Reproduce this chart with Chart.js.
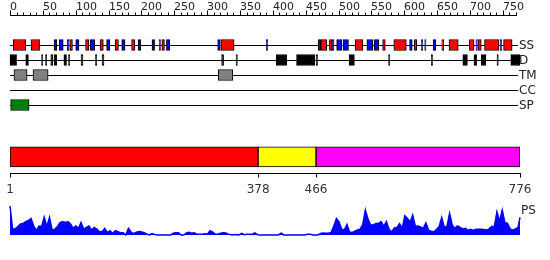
<!DOCTYPE html>
<html>
<head>
<meta charset="utf-8">
<script src="https://cdn.jsdelivr.net/npm/chart.js@4.4.1/dist/chart.umd.min.js"></script>
<style>
  html, body { margin: 0; padding: 0; background: #fff; }
  #wrap { position: relative; width: 550px; height: 260px; overflow: hidden; }
  #wrap canvas { position: absolute; left: 0; }
</style>
</head>
<body>
<div id="wrap">
  <canvas id="tracks" width="550" height="115" style="top:0"></canvas>
  <canvas id="domains" width="550" height="62" style="top:140px"></canvas>
  <canvas id="ps" width="550" height="40" style="top:200px"></canvas>
</div>
<script>
const SEQ_LEN = 776;
const FONT = 'DejaVu Sans';

// track rows, top to bottom
const trackNames = ['SS', 'D', 'TM', 'CC', 'SP'];

// segments in residue numbers [start, end]
const helixSegs = [[5, 24], [32, 45], [91, 95], [115, 120], [137, 142], [160, 165], [185, 190],
    [231, 235], [321, 341], [473, 482], [486, 490], [525, 537], [567, 571], [584, 603],
    [615, 619], [657, 660], [668, 682], [699, 706], [712, 717], [722, 744], [751, 764]];
const strandSegs = [[67, 71], [75, 81], [87, 90], [100, 105], [122, 129], [147, 152], [170, 175],
    [195, 199], [216, 220], [227, 229], [238, 243], [316, 320], [390, 392], [469, 473],
    [490, 493], [497, 505], [507, 515], [543, 552], [554, 561], [608, 612], [626, 628],
    [631, 633], [644, 648], [709, 711], [746, 748]];
const disorderSegs = [[0, 10], [24, 28], [48, 50], [54, 56], [62, 65], [67, 71], [82, 86], [89, 91],
    [108, 111], [130, 132], [140, 143], [322, 325], [344, 346], [405, 421], [436, 464],
    [466, 468], [516, 524], [576, 578], [641, 643], [689, 696], [706, 710], [717, 724],
    [741, 743], [762, 776]];
const tmSegs = [[6, 26], [35, 58], [317, 339]];
const ccSegs = [];
const spSegs = [[1, 29]];

// domain boundaries and colours
const domainBounds = [1, 378, 466, 776];
const domainColors = ['#ff0000', '#ffff00', '#ff00ff'];

// top ruler
const rulerMax = 750;
const rulerMajor = 50;
const rulerMinor = 10;

// PS profile, one value every psStep residues starting at residue 1 (last one is residue 776)
const psStep = 4;
const psValues = [
    1.0, 0.2, 0.22, 0.29, 0.38, 0.4, 0.46, 0.5, 0.57, 0.31,
    0.15, 0.31, 0.29, 0.62, 0.29, 0.61, 0.17, 0.2, 0.29, 0.43,
    0.46, 0.43, 0.46, 0.38, 0.23, 0.31, 0.23, 0.43, 0.2, 0.26,
    0.31, 0.17, 0.26, 0.2, 0.11, 0.11, 0.23, 0.08, 0.15, 0.05,
    0.15, 0.11, 0.08, 0.08, 0.0, 0.23, 0.1, 0.05, 0.1, 0.12,
    0.1, 0.08, 0.03, 0.0, 0.05, 0.02, 0.0, 0.0, 0.0, 0.0,
    0.0, 0.0, 0.06, 0.08, 0.08, 0.0, 0.0, 0.07, 0.09, 0.06,
    0.08, 0.03, 0.03, 0.03, 0.04, 0.03, 0.15, 0.1, 0.03, 0.03,
    0.06, 0.08, 0.07, 0.03, 0.01, 0.01, 0.02, 0.0, 0.06, 0.01,
    0.03, 0.03, 0.02, 0.07, 0.01, 0, 0, 0, 0, 0,
    0, 0, 0, 0.06, 0, 0, 0, 0, 0, 0,
    0, 0, 0, 0.03, 0.03, 0, 0, 0, 0.05, 0.07,
    0.06, 0.06, 0.09, 0.3, 0.57, 0.45, 0.2, 0.17, 0.36, 0.1,
    0.09, 0.13, 0.17, 0.2, 0.36, 0.86, 0.55, 0.34, 0.35, 0.4,
    0.4, 0.46, 0.3, 0.46, 0.2, 0.11, 0.24, 0.26, 0.39, 0.23,
    0.66, 0.57, 0.45, 0.69, 0.3, 0.31, 0.28, 0.23, 0.42, 0.17,
    0.13, 0.11, 0.19, 0.29, 0.6, 0.26, 0.3, 0.75, 0.35, 0.23,
    0.31, 0.26, 0.21, 0.23, 0.16, 0.2, 0.16, 0.2, 0.2, 0.2,
    0.19, 0.17, 0.21, 0.29, 0.3, 0.8, 0.48, 0.86, 0.43, 0.4,
    0.21, 0.17, 0.21, 0.26, 0.61
];

const noUi = {
    responsive: false,
    animation: false,
    events: [],
};
const quietPlugins = { legend: { display: false }, tooltip: { enabled: false } };

function segDataset(segs, track, color) {
    return {
        data: segs.map(s => ({ x: s, y: track })),
        backgroundColor: color,
        borderColor: '#000',
        borderWidth: 1,
        borderSkipped: false,
        barThickness: 11,
        grouped: false,
        clip: false
    };
}

// track lines, track names and the top ruler
const trackDecor = {
    id: 'trackDecor',
    beforeDatasetsDraw(chart) {
        const { ctx, chartArea, scales } = chart;
        ctx.save();
        ctx.strokeStyle = '#000';
        ctx.lineWidth = 1;
        trackNames.forEach((name, i) => {
            const y = Math.round(scales.y.getPixelForValue(i)) + 0.5;
            ctx.beginPath();
            ctx.moveTo(chartArea.left, y);
            ctx.lineTo(chartArea.right - 2, y);
            ctx.stroke();
        });
        ctx.restore();
    },
    afterDraw(chart) {
        const { ctx, chartArea, scales } = chart;
        const x = scales.x;
        ctx.save();
        ctx.fillStyle = '#222';
        ctx.font = `12px "${FONT}"`;
        ctx.textBaseline = 'middle';
        ctx.textAlign = 'left';
        trackNames.forEach((name, i) => {
            ctx.fillText(name, chartArea.right - 1, scales.y.getPixelForValue(i) + 1);
        });

        const base = 15.5;
        ctx.strokeStyle = '#000';
        ctx.lineWidth = 1;
        ctx.beginPath();
        ctx.moveTo(x.getPixelForValue(0), base);
        ctx.lineTo(x.getPixelForValue(rulerMax + 2 * rulerMinor) + 1, base);
        for (let v = 0; v <= rulerMax + 2 * rulerMinor; v += rulerMinor) {
            const px = Math.round(x.getPixelForValue(v)) + 0.5;
            ctx.moveTo(px, base);
            ctx.lineTo(px, base - (v % rulerMajor === 0 ? 5 : 3));
        }
        ctx.stroke();
        ctx.font = `11px "${FONT}"`;
        ctx.textBaseline = 'alphabetic';
        for (let v = 0; v <= rulerMax; v += rulerMajor) {
            ctx.fillText(String(v), Math.round(x.getPixelForValue(v)), 10);
        }
        ctx.restore();
    }
};

new Chart(document.getElementById('tracks'), {
    type: 'bar',
    data: {
        labels: trackNames,
        datasets: [
            segDataset(helixSegs, 'SS', '#ff0000'),
            segDataset(strandSegs, 'SS', '#0000ff'),
            segDataset(disorderSegs, 'D', '#000000'),
            segDataset(tmSegs, 'TM', '#808080'),
            segDataset(ccSegs, 'CC', '#ffa500'),
            segDataset(spSegs, 'SP', '#008000')
        ]
    },
    options: {
        ...noUi,
        indexAxis: 'y',
        layout: { padding: { left: 10, right: 30, top: 45, bottom: 10 } },
        plugins: quietPlugins,
        scales: {
            x: { type: 'linear', min: 0, max: SEQ_LEN, display: false },
            y: { type: 'category', offset: false, display: false }
        }
    },
    plugins: [trackDecor]
});

new Chart(document.getElementById('domains'), {
    type: 'bar',
    data: {
        labels: ['domains'],
        datasets: domainColors.map((color, i) => ({
            data: [{ x: [domainBounds[i], domainBounds[i + 1]], y: 'domains' }],
            backgroundColor: color,
            borderColor: '#000',
            borderWidth: 1,
            borderSkipped: false,
            barThickness: 20,
            grouped: false
        }))
    },
    options: {
        ...noUi,
        indexAxis: 'y',
        layout: { padding: { left: 10, right: 30, top: 0, bottom: 0 } },
        plugins: quietPlugins,
        scales: {
            x: {
                type: 'linear',
                min: 1,
                max: SEQ_LEN,
                afterBuildTicks: scale => {
                    scale.ticks = domainBounds.map(v => ({ value: v }));
                },
                grid: { drawOnChartArea: false, color: '#000', tickLength: 4 },
                border: { color: '#000' },
                ticks: {
                    color: '#333',
                    font: { family: FONT, size: 12 },
                    padding: 5,
                    autoSkip: false,
                    maxRotation: 0,
                    callback: v => String(v)
                }
            },
            y: { display: false }
        }
    }
});

const psLabel = {
    id: 'psLabel',
    afterDraw(chart) {
        const { ctx, chartArea } = chart;
        ctx.save();
        ctx.fillStyle = '#222';
        ctx.font = `12px "${FONT}"`;
        ctx.textBaseline = 'middle';
        ctx.fillText('PS', chartArea.right + 1, 11);
        ctx.restore();
    }
};

new Chart(document.getElementById('ps'), {
    type: 'line',
    data: {
        datasets: [{
            data: psValues.map((v, i) => ({ x: Math.min(1 + i * psStep, SEQ_LEN), y: v })),
            borderColor: '#0000ff',
            backgroundColor: '#0000ff',
            borderWidth: 1.5,
            fill: 'origin',
            pointRadius: 0,
            tension: 0,
            clip: false
        }]
    },
    options: {
        ...noUi,
        layout: { padding: { left: 10, right: 30, top: 6, bottom: 5 } },
        plugins: quietPlugins,
        scales: {
            x: { type: 'linear', min: 1, max: SEQ_LEN, display: false },
            y: { min: 0, max: 1, display: false }
        }
    },
    plugins: [psLabel]
});
</script>
</body>
</html>
